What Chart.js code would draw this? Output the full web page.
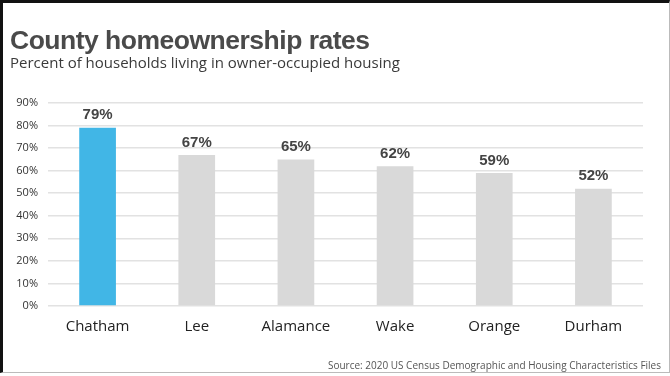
<!DOCTYPE html>
<html>
<head>
<meta charset="utf-8">
<script src="https://cdn.jsdelivr.net/npm/chart.js@4"></script>
<style>
  html, body { margin: 0; padding: 0; background: #fff; }
  #frame {
    position: relative; width: 666px; height: 369px;
    border-top: 3px solid #111; border-left: 3px solid #111;
    border-right: 1px solid #bbb; border-bottom: 1px solid #bbb;
    overflow: hidden;
  }
  #title { position: absolute; left: 7px; top: 22px; font: bold 26.5px "Liberation Sans", Arial, sans-serif; color: #4a4a4a; letter-spacing: -0.5px; }
  #subtitle { position: absolute; left: 7px; top: 49px; font: 15px "Open Sans", sans-serif; color: #3a3a3a; }
  #source { position: absolute; right: 8px; top: 355px; font: 10px "Open Sans", sans-serif; color: #555; }
  #wrap { position: absolute; left: -3px; top: -3px; width: 670px; height: 376px; }
</style>
</head>
<body>
<div id="frame">
  <div id="wrap"><canvas id="chart"></canvas></div>
  <div id="title">County homeownership rates</div>
  <div id="subtitle">Percent of households living in owner-occupied housing</div>
  <div id="source">Source: 2020 US Census Demographic and Housing Characteristics Files</div>
</div>
<script>
const counties = ['Chatham', 'Lee', 'Alamance', 'Wake', 'Orange', 'Durham'];
const ownerRates = [79, 67, 65, 62, 59, 52];
const barColors = ['#41b6e6', '#d9d9d9', '#d9d9d9', '#d9d9d9', '#d9d9d9', '#d9d9d9'];

// labels above each bar
const valueLabels = {
    id: 'valueLabels',
    afterDatasetsDraw(chart) {
        const c = chart.ctx;
        const meta = chart.getDatasetMeta(0);
        c.save();
        c.font = 'bold 15px "Liberation Sans", Arial, sans-serif';
        c.fillStyle = '#444';
        c.textAlign = 'center';
        c.textBaseline = 'bottom';
        meta.data.forEach((bar, i) => {
            c.fillText(ownerRates[i] + '%', bar.x, bar.y - 5);
        });
        c.restore();
    }
};

new Chart(document.getElementById('chart'), {
    type: 'bar',
    data: {
        labels: counties,
        datasets: [{
            data: ownerRates,
            backgroundColor: barColors,
            categoryPercentage: 1,
            barPercentage: 0.37
        }]
    },
    options: {
        responsive: true,
        maintainAspectRatio: false,
        animation: false,
        layout: { padding: { top: 103, right: 27, bottom: 28, left: 0 } },
        plugins: { legend: { display: false }, tooltip: { enabled: false } },
        scales: {
            x: {
                grid: { display: false, drawTicks: false },
                border: { display: false },
                ticks: { color: '#222', padding: 12, font: { family: '"Open Sans", sans-serif', size: 15 } }
            },
            y: {
                min: 0, max: 90,
                afterFit: (scale) => { scale.width = 48; },
                grid: { color: '#e2e2e2', lineWidth: 1.5, drawTicks: false },
                border: { display: false },
                ticks: {
                    stepSize: 10, padding: 10, color: '#333',
                    font: { family: '"Open Sans", sans-serif', size: 11 },
                    callback: (v) => v + '%'
                }
            }
        }
    },
    plugins: [valueLabels]
});
</script>
</body>
</html>
